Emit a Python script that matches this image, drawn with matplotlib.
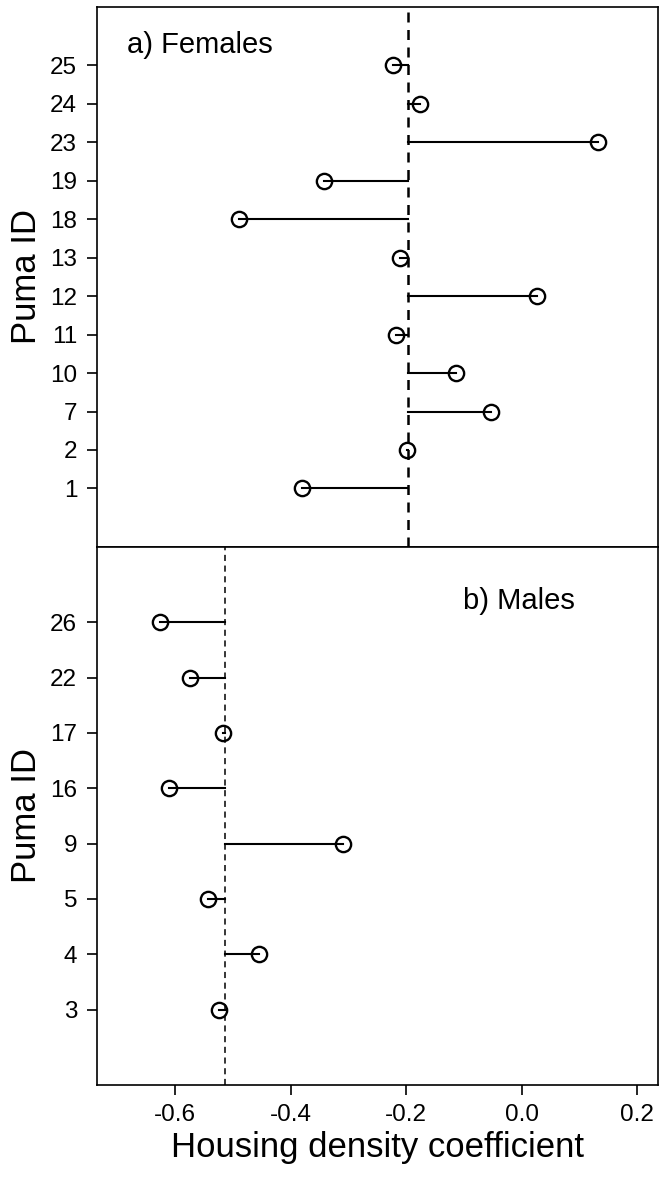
import matplotlib
matplotlib.use('Agg')
import matplotlib.pyplot as plt
import numpy as np

plt.rcParams['font.family'] = ['Liberation Sans', 'DejaVu Sans']

# females, bottom row first
fem_ids = ['1', '2', '7', '10', '11', '12', '13', '18', '19', '23', '24', '25']
fem_coef = [-0.380, -0.198, -0.053, -0.114, -0.217, 0.026, -0.211, -0.489, -0.343, 0.132, -0.176, -0.223]
fem_mean = -0.197

# males, bottom row first
male_ids = ['3', '4', '5', '9', '16', '17', '22', '26']
male_coef = [-0.524, -0.454, -0.543, -0.310, -0.610, -0.518, -0.574, -0.627]
male_mean = -0.513

xticks = [-0.6, -0.4, -0.2, 0.0, 0.2]


def panel(ax, ids, coef, mean, label, lx, ly, dash_lw):
    y = np.arange(1, len(ids) + 1)
    ax.axvline(mean, color='black', lw=dash_lw, ls=(0, (4, 3)), zorder=1)
    for yi, c in zip(y, coef):
        ax.plot([mean, c], [yi, yi], color='black', lw=1.5, zorder=2)
    ax.plot(coef, y, 'o', ms=11, mfc='none', mec='black', mew=1.7, zorder=3)
    n = len(ids) + 1
    ax.set_ylim(-0.04 * n, n * 1.04)
    ax.set_xlim(-0.736, 0.236)
    ax.set_yticks(y)
    ax.set_yticklabels(ids)
    ax.set_ylabel('Puma ID', fontsize=25, labelpad=5)
    ax.text(lx, ly, label, transform=ax.transAxes, fontsize=21, va='baseline', ha='left')
    ax.tick_params(axis='y', length=7, width=1.2, pad=7, labelsize=17.5)
    for s in ax.spines.values():
        s.set_linewidth(1.2)


fig = plt.figure(figsize=(6.64, 11.77), dpi=100)
ax1 = fig.add_axes([0.1455, 0.5353, 0.8455, 0.4590])
ax2 = fig.add_axes([0.1455, 0.0782, 0.8455, 0.4571])

panel(ax1, fem_ids, fem_coef, fem_mean, 'a) Females', 0.054, 0.914, 1.8)
panel(ax2, male_ids, male_coef, male_mean, 'b) Males', 0.6525, 0.885, 1.1)

ax1.set_xticks([])
ax2.set_xticks(xticks)
ax2.set_xticklabels(['-0.6', '-0.4', '-0.2', '0.0', '0.2'])
ax2.tick_params(axis='x', length=7, width=1.2, pad=7, labelsize=17.5)
ax2.set_xlabel('Housing density coefficient', fontsize=25, labelpad=3)

plt.savefig('out.png', dpi=100)
